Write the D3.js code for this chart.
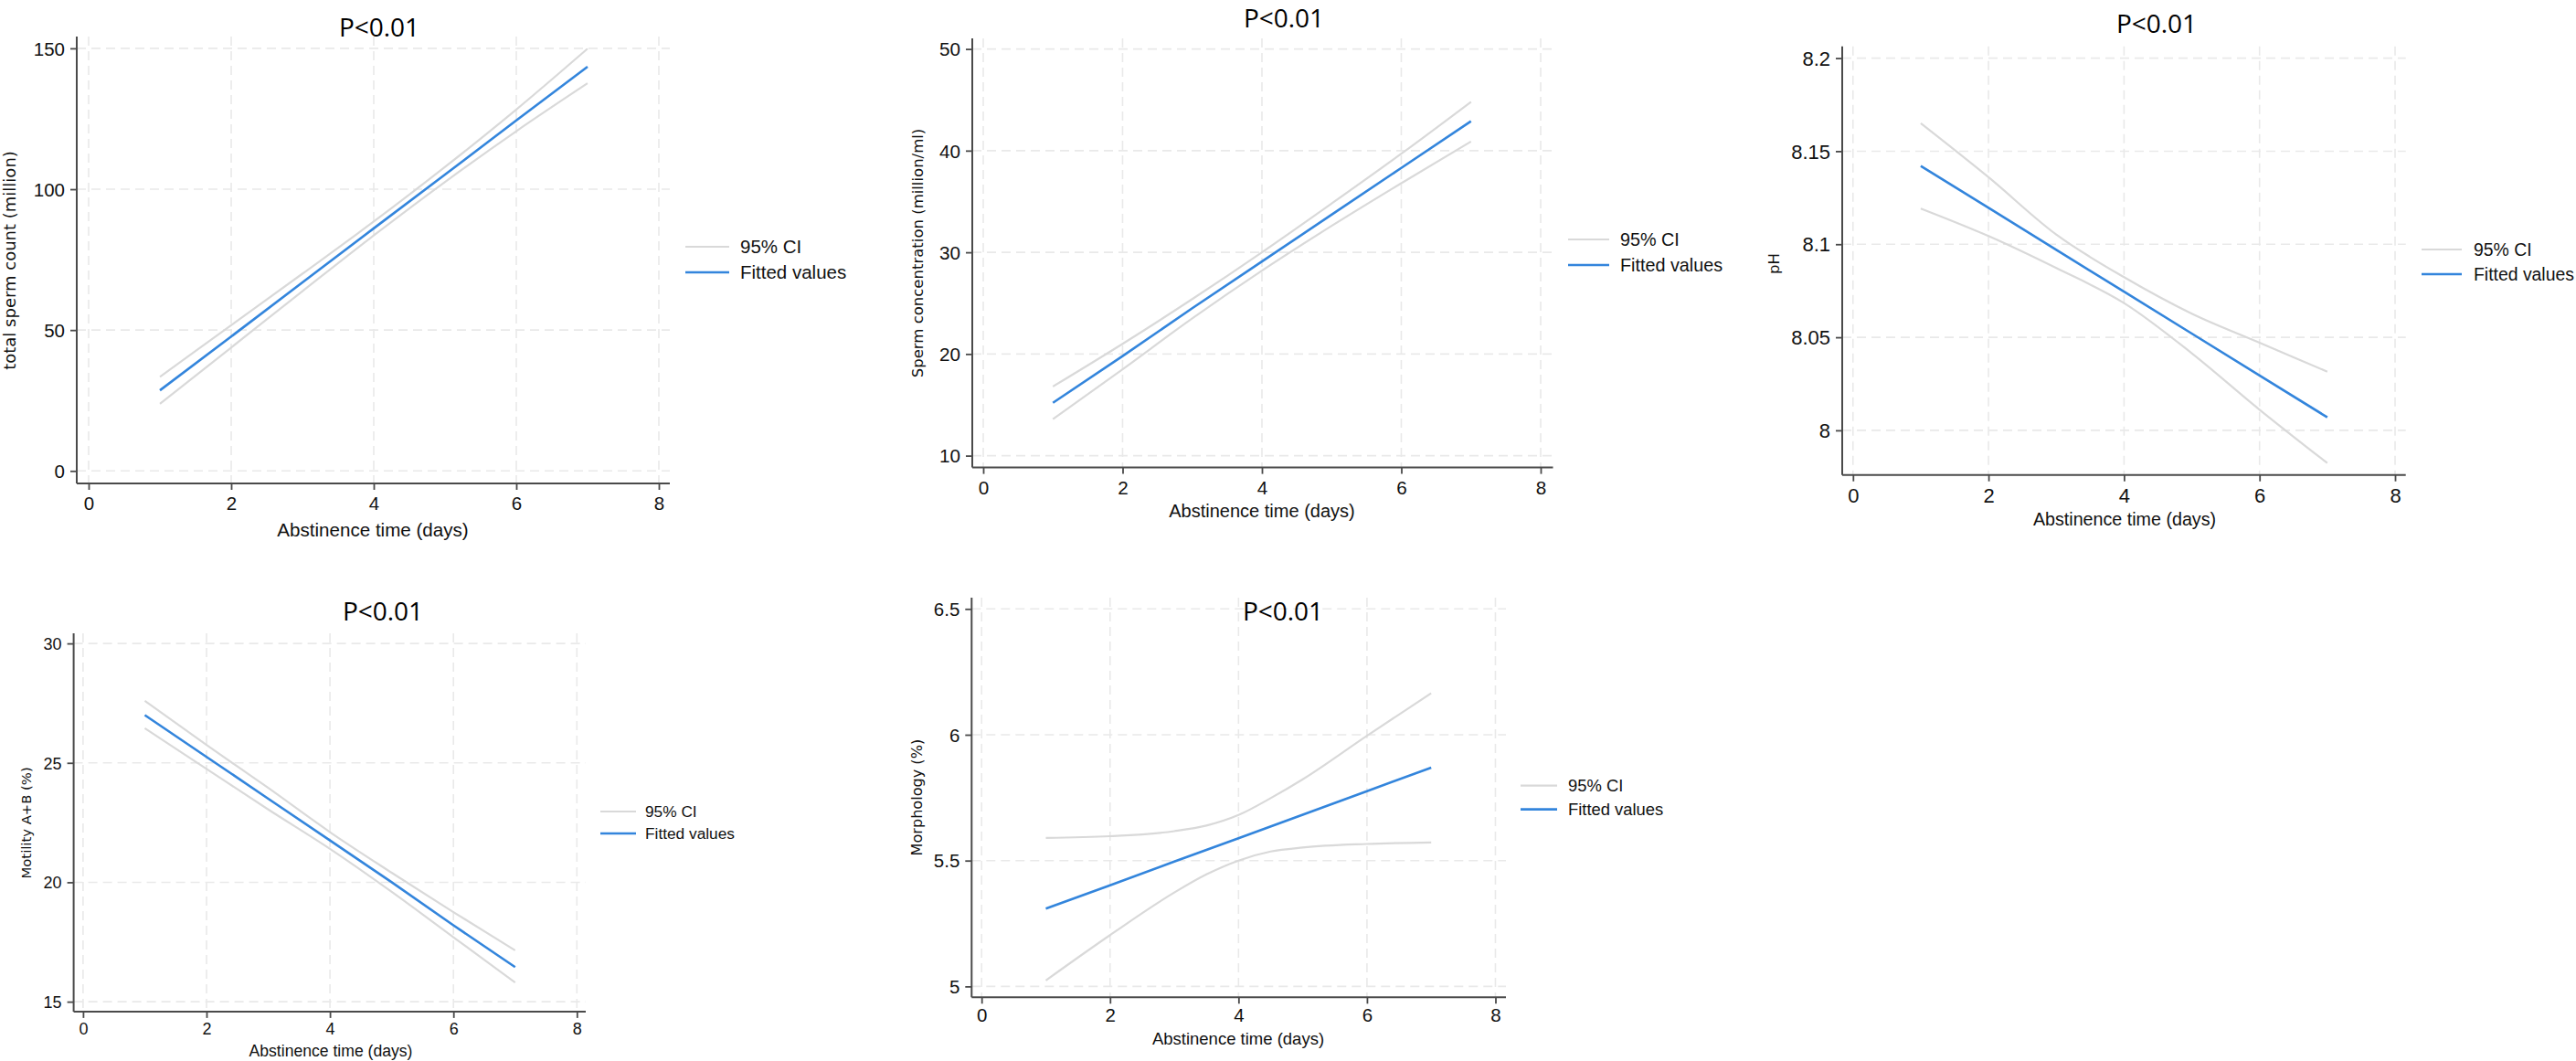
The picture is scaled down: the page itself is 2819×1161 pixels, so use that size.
<!DOCTYPE html>
<html>
<head>
<meta charset="utf-8">
<script src="https://cdn.jsdelivr.net/npm/d3@7"></script>
<style>
  body { margin: 0; background: #fff; }
  svg { display: block; }
</style>
</head>
<body>
<svg id="chart" width="2819" height="1161"></svg>
<script>
// THE DATA
// x axis (abstinence days)
const days = [1, 2, 3, 4, 5, 6, 7];
const xTicks = [0, 2, 4, 6, 8];

// total sperm count (million)
const countFit = [28.6, 47.7, 66.9, 86.1, 105.2, 124.4, 143.5];
const countHi = [33.4, 51.7, 70.0, 88.5, 107.9, 128.3, 149.9];
const countLo = [23.8, 43.8, 63.8, 83.6, 102.6, 120.6, 137.6];
const countTicks = [0, 50, 100, 150];

// sperm concentration (million/ml)
const concFit = [15.2, 19.8, 24.5, 29.1, 33.7, 38.3, 42.9];
const concHi = [16.8, 21.0, 25.4, 30.0, 34.8, 39.7, 44.8];
const concLo = [13.6, 18.5, 23.5, 28.2, 32.6, 36.8, 40.9];
const concTicks = [10, 20, 30, 40, 50];

// pH
const phFit = [8.142, 8.1196, 8.097, 8.0745, 8.052, 8.0295, 8.007];
const phHi = [8.165, 8.136, 8.1052, 8.0823, 8.0627, 8.0471, 8.0315];
const phLo = [8.1192, 8.1044, 8.0872, 8.0684, 8.0414, 8.0111, 7.9824];
const phTicks = [8, 8.05, 8.1, 8.15, 8.2];

// motility A+B (%)
const motFit = [27.0, 25.25, 23.5, 21.75, 20.0, 18.2, 16.45];
const motHi = [27.6, 25.75, 23.95, 22.1, 20.4, 18.75, 17.15];
const motLo = [26.45, 24.75, 23.05, 21.4, 19.6, 17.7, 15.8];
const motTicks = [15, 20, 25, 30];

// morphology (%), CI read at a few extra points because it bends
const morphFit = [5.309, 5.402, 5.496, 5.589, 5.682, 5.776, 5.869];
const morphCiDays = [1, 2, 3, 3.5, 4, 4.5, 5, 6, 7];
const morphHi = [5.590, 5.597, 5.617, 5.639, 5.681, 5.748, 5.823, 5.996, 6.165];
const morphLo = [5.024, 5.204, 5.373, 5.445, 5.500, 5.536, 5.552, 5.566, 5.572];
const morphTicks = [5, 5.5, 6, 6.5];

const titleText = "P<0.01";
const xLabel = "Abstinence time (days)";
const legendLabels = ["95% CI", "Fitted values"];

// THE PANELS (layout only)
const panels = [
  { yLabel: "total sperm count (million)", fit: countFit, hi: countHi, lo: countLo, ciX: days, ticks: countTicks,
    box: {l: 84, r: 733, t: 40, b: 529}, xr: [97, 721], yr: [515.3, 52.9],
    title: [415, 40], yLab: [11, 285, 18], tickSize: 20.5, xTickY: 558, xLab: [408, 587, 20.6],
    legend: [750, 798, 270, 298, 810, 20.5] },
  { yLabel: "Sperm concentration (million/ml)", fit: concFit, hi: concHi, lo: concLo, ciX: days, ticks: concTicks,
    box: {l: 1064, r: 1699.5, t: 42, b: 511.6}, xr: [1076, 1686], yr: [498.6, 53.6],
    title: [1405, 30], yLab: [1004, 277, 16.5], tickSize: 20.7, xTickY: 540.7, xLab: [1381, 566, 20],
    legend: [1716, 1761, 262, 290, 1773, 19.8] },
  { yLabel: "pH", fit: phFit, hi: phHi, lo: phLo, ciX: days, ticks: phTicks,
    box: {l: 2016, r: 2632.7, t: 50.7, b: 519.7}, xr: [2027.8, 2621], yr: [470.9, 63.6],
    title: [2360, 36], yLab: [1941, 288.5, 16.6], tickSize: 22, xTickY: 550, xLab: [2325, 575, 19.7],
    legend: [2650, 2694, 273, 300, 2707, 19.4] },
  { yLabel: "Motility A+B (%)", fit: motFit, hi: motHi, lo: motLo, ciX: days, ticks: motTicks,
    box: {l: 80.6, r: 641, t: 693, b: 1106.9}, xr: [90.9, 631.3], yr: [1096.1, 704.1],
    title: [419, 679], yLab: [28.5, 900.4, 14.8], tickSize: 18, xTickY: 1132, xLab: [362, 1156, 17.6],
    legend: [657, 696, 888, 912, 706, 17.3] },
  { yLabel: "Morphology (%)", fit: morphFit, hi: morphHi, lo: morphLo, ciX: morphCiDays, ticks: morphTicks,
    box: {l: 1063.3, r: 1648, t: 654, b: 1091.3}, xr: [1074.2, 1636.5], yr: [1079.4, 666.3],
    title: [1404, 679], yLab: [1003, 872.6, 16.1], tickSize: 20.5, xTickY: 1118, xLab: [1355, 1143, 18.5],
    legend: [1664, 1704, 859.7, 885.6, 1716, 18.4] }
];

const ciColor = "#d9d9d9";
const fitColor = "#3385dc";
const gridColor = "#e9e9e9";
const axisColor = "#4a4a4a";
const sans = "'Liberation Sans', Arial, Helvetica, sans-serif";

const svg = d3.select("#chart");

panels.forEach(p => {
  const g = svg.append("g");
  const x = d3.scaleLinear().domain([xTicks[0], xTicks[xTicks.length - 1]]).range(p.xr);
  const y = d3.scaleLinear().domain([p.ticks[0], p.ticks[p.ticks.length - 1]]).range(p.yr);
  const fmt = d => String(+d.toFixed(2));

  // grid
  g.selectAll(".vg").data(xTicks).join("line")
    .attr("x1", d => x(d)).attr("x2", d => x(d))
    .attr("y1", p.box.t).attr("y2", p.box.b)
    .attr("stroke", gridColor).attr("stroke-width", 1.6).attr("stroke-dasharray", "10,6");
  g.selectAll(".hg").data(p.ticks).join("line")
    .attr("x1", p.box.l).attr("x2", p.box.r)
    .attr("y1", d => y(d)).attr("y2", d => y(d))
    .attr("stroke", gridColor).attr("stroke-width", 1.6).attr("stroke-dasharray", "10,6");

  // axes
  const xAxis = g.append("g").attr("transform", `translate(0,${p.box.b})`)
    .call(d3.axisBottom(x).tickValues(xTicks).tickSize(7).tickPadding(0).tickFormat(fmt));
  const yAxis = g.append("g").attr("transform", `translate(${p.box.l},0)`)
    .call(d3.axisLeft(y).tickValues(p.ticks).tickSize(7).tickPadding(6).tickFormat(fmt));
  [xAxis, yAxis].forEach(a => {
    a.select(".domain").remove();
    a.selectAll(".tick line").attr("stroke", axisColor).attr("stroke-width", 1.8);
    a.selectAll(".tick text").attr("fill", "#111").style("font-family", sans).style("font-size", p.tickSize + "px");
  });
  xAxis.selectAll(".tick text").attr("dy", null).attr("y", p.xTickY - p.box.b);
  yAxis.selectAll(".tick text").attr("dy", "0.35em");

  // axis lines
  g.append("line").attr("x1", p.box.l).attr("x2", p.box.l).attr("y1", p.box.t).attr("y2", p.box.b)
    .attr("stroke", axisColor).attr("stroke-width", 2);
  g.append("line").attr("x1", p.box.l).attr("x2", p.box.r).attr("y1", p.box.b).attr("y2", p.box.b)
    .attr("stroke", axisColor).attr("stroke-width", 2);

  // CI and fitted lines
  const ci = d3.line().x((d, i) => x(p.ciX[i])).y(d => y(d)).curve(d3.curveMonotoneX);
  const fitLine = d3.line().x((d, i) => x(days[i])).y(d => y(d));
  [p.hi, p.lo].forEach(s => {
    g.append("path").attr("d", ci(s)).attr("fill", "none")
      .attr("stroke", ciColor).attr("stroke-width", 2.2);
  });
  g.append("path").attr("d", fitLine(p.fit)).attr("fill", "none")
    .attr("stroke", fitColor).attr("stroke-width", 2.6);

  // titles
  g.append("text").attr("x", p.title[0]).attr("y", p.title[1]).attr("text-anchor", "middle")
    .style("font-family", "'Open Sans', 'Noto Sans', sans-serif").style("font-size", "28px")
    .attr("fill", "#000").text(titleText);
  g.append("text").attr("x", p.xLab[0]).attr("y", p.xLab[1]).attr("text-anchor", "middle")
    .style("font-family", sans).style("font-size", p.xLab[2] + "px").attr("fill", "#111").text(xLabel);
  g.append("text").attr("transform", `translate(${p.yLab[0]},${p.yLab[1]}) rotate(-90)`)
    .attr("text-anchor", "middle").attr("dy", "0.35em")
    .style("font-family", "'DejaVu Sans', Verdana, sans-serif").style("font-size", p.yLab[2] + "px")
    .attr("fill", "#111").text(p.yLabel);

  // legend
  const [lx1, lx2, ly1, ly2, tx, fs] = p.legend;
  [[ly1, ciColor, 2.2], [ly2, fitColor, 2.6]].forEach(([ly, c, w], i) => {
    g.append("line").attr("x1", lx1).attr("x2", lx2).attr("y1", ly).attr("y2", ly)
      .attr("stroke", c).attr("stroke-width", w);
    g.append("text").attr("x", tx).attr("y", ly).attr("dy", "0.36em")
      .style("font-family", sans).style("font-size", fs + "px").attr("fill", "#111")
      .text(legendLabels[i]);
  });
});
</script>
</body>
</html>
